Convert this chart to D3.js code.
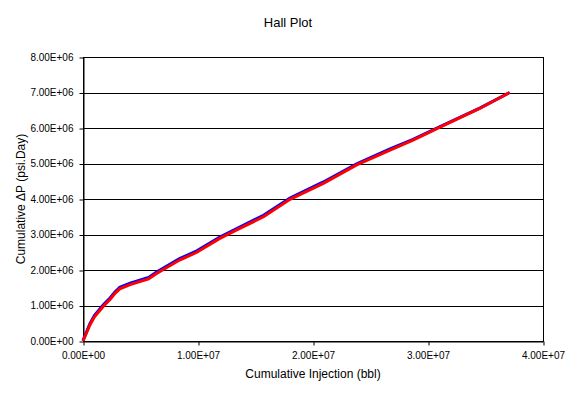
<!DOCTYPE html>
<html><head><meta charset="utf-8">
<script src="https://cdn.jsdelivr.net/npm/d3@7"></script>
<style>body{margin:0;background:#fff}svg{display:block}text{font-family:"Liberation Sans",Arial,sans-serif;fill:#000}</style>
</head><body><svg id="c" width="576" height="394"></svg>
<script>
const injection = [0, 0.6e6, 1.0e6, 1.77e6, 2.35e6, 2.8e6, 3.2e6, 4.1e6, 5.7e6, 6.4e6, 8.4e6, 9.9e6, 11.9e6, 13.5e6, 15.7e6, 18.0e6, 20.9e6, 23.8e6, 26.7e6, 28.7e6, 31.0e6, 34.5e6, 37.1e6];
const dpRed  = [0, 0.45e6, 0.68e6, 0.98e6, 1.17e6, 1.35e6, 1.47e6, 1.59e6, 1.75e6, 1.90e6, 2.28e6, 2.50e6, 2.89e6, 3.15e6, 3.50e6, 3.99e6, 4.44e6, 4.96e6, 5.38e6, 5.66e6, 6.02e6, 6.55e6, 7.00e6];
const dpBlue = [0.01e6, 0.49e6, 0.72e6, 1.02e6, 1.21e6, 1.39e6, 1.51e6, 1.63e6, 1.79e6, 1.94e6, 2.32e6, 2.54e6, 2.93e6, 3.19e6, 3.54e6, 4.03e6, 4.48e6, 4.99e6, 5.41e6, 5.68e6, 6.03e6, 6.56e6, 7.00e6];
const xTicks = [0, 1e7, 2e7, 3e7, 4e7];
const yTicks = [0, 1e6, 2e6, 3e6, 4e6, 5e6, 6e6, 7e6, 8e6];
const title = "Hall Plot";
const xLabel = "Cumulative Injection (bbl)";
const yLabel = "Cumulative ΔP (psi.Day)";

const svg = d3.select("#c");
const L = 83, R = 543, T = 57, B = 341;
const x = d3.scaleLinear().domain([0, 4e7]).range([L, R]);
const y = d3.scaleLinear().domain([0, 8e6]).range([B, T]);
const fmt = v => v.toExponential(2).toUpperCase().replace(/E([+-])(\d)$/, "E$10$2");

// gridlines
svg.append("g").selectAll("line").data(yTicks.slice(1, -1)).join("line")
  .attr("x1", L).attr("x2", R).attr("y1", d => Math.round(y(d)) + 0.5).attr("y2", d => Math.round(y(d)) + 0.5)
  .attr("stroke", "#000").attr("stroke-width", 1);
// border
svg.append("rect").attr("x", L + 0.5).attr("y", T + 0.5).attr("width", R - L).attr("height", B - T)
  .attr("fill", "none").attr("stroke", "#000");

const xAxis = svg.append("g").attr("transform", `translate(0,${B + 0.5})`)
  .call(d3.axisBottom(x).tickValues(xTicks).tickFormat(fmt).tickSize(4).tickSizeOuter(0));
xAxis.select(".domain").attr("stroke", "#000");
xAxis.selectAll("line").attr("stroke", "#000").attr("transform", "translate(0.5,0)");
xAxis.selectAll("text").attr("font-size", 10).attr("dy", "0.71em").attr("y", 10).style("font-family", '"Liberation Sans",Arial,sans-serif');

const yAxis = svg.append("g").attr("transform", `translate(${L + 0.5},0)`)
  .call(d3.axisLeft(y).tickValues(yTicks).tickFormat(fmt).tickSize(4).tickSizeOuter(0));
yAxis.select(".domain").attr("stroke", "#000");
yAxis.selectAll("line").attr("stroke", "#000").attr("transform", "translate(0,0.5)");
yAxis.selectAll("text").attr("font-size", 10).attr("x", -10).style("font-family", '"Liberation Sans",Arial,sans-serif');

const line = d3.line().x((d, i) => x(injection[i])).y(d => y(d));
svg.append("path").datum(dpBlue).attr("d", line).attr("fill", "none").attr("stroke", "#0000ff").attr("stroke-width", 3);
svg.append("path").datum(dpRed).attr("d", line).attr("fill", "none").attr("stroke", "#ff0000").attr("stroke-width", 3);

svg.append("text").attr("x", 288).attr("y", 27).attr("text-anchor", "middle").attr("font-size", 13).text(title);
svg.append("text").attr("x", 313).attr("y", 378).attr("text-anchor", "middle").attr("font-size", 12).text(xLabel);
svg.append("text").attr("transform", "translate(25,199) rotate(-90)").attr("text-anchor", "middle").attr("font-size", 12).text(yLabel);
</script></body></html>
